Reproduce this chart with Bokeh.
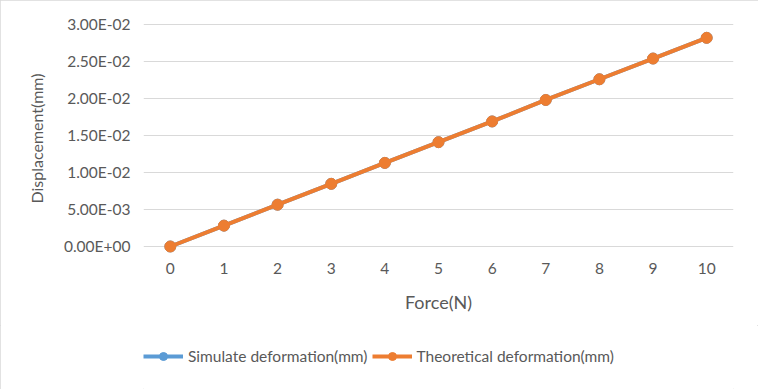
from bokeh.plotting import figure
from bokeh.layouts import column
from bokeh.models import (FactorRange, Range1d, FixedTicker, CustomJSTickFormatter,
                          Legend, LegendItem)
from bokeh.embed import file_html
from bokeh.resources import INLINE

force = ["0", "1", "2", "3", "4", "5", "6", "7", "8", "9", "10"]
simulate = [0.0, 0.00282, 0.00565, 0.00847, 0.0113, 0.0141, 0.0169, 0.0198, 0.0226, 0.0254, 0.0282]
theoretical = [0.0, 0.00282, 0.00565, 0.00847, 0.0113, 0.0141, 0.0169, 0.0198, 0.0226, 0.0254, 0.0282]
y_ticks = [0.0, 0.005, 0.01, 0.015, 0.02, 0.025, 0.03]
series_names = ["Simulate deformation(mm)", "Theoretical deformation(mm)"]

BLUE = "#5B9BD5"
ORANGE = "#ED7D31"
TEXT = "#595959"
GRID = "#D9D9D9"
FONT = "Lato"

p = figure(x_range=FactorRange(factors=force),
           y_range=Range1d(-0.000946, 0.030135),
           frame_width=590, frame_height=230,
           min_border_left=143, min_border_right=25,
           min_border_top=23, min_border_bottom=72,
           output_backend="svg", toolbar_location=None)
p.outline_line_color = None
p.background_fill_color = "white"
p.border_fill_color = "white"

p.line(x=force, y=simulate, line_color=BLUE, line_width=4)
p.scatter(x=force, y=simulate, size=11, fill_color=BLUE, line_color=BLUE)
p.line(x=force, y=theoretical, line_color=ORANGE, line_width=4)
p.scatter(x=force, y=theoretical, size=11, fill_color=ORANGE, line_color=ORANGE)

p.xgrid.grid_line_color = None
p.ygrid.grid_line_color = GRID
p.ygrid.grid_line_width = 1

p.yaxis.ticker = FixedTicker(ticks=y_ticks)
p.yaxis.formatter = CustomJSTickFormatter(code="""
    const s = tick.toExponential(2);
    const parts = s.split('e');
    let e = parts[1];
    const sign = e[0];
    let d = e.slice(1);
    if (d.length < 2) { d = '0' + d; }
    return parts[0] + 'E' + sign + d;
""")
for ax in (p.xaxis[0], p.yaxis[0]):
    ax.axis_line_color = None
    ax.major_tick_line_color = None
    ax.minor_tick_line_color = None
    ax.major_tick_out = 0
    ax.major_tick_in = 0
    ax.major_label_text_font = FONT
    ax.major_label_text_font_size = "15.5px"
    ax.major_label_text_color = TEXT
    ax.axis_label_text_font = FONT
    ax.axis_label_text_font_style = "normal"
    ax.axis_label_text_color = TEXT

p.yaxis.axis_label = "Displacement(mm)"
p.yaxis.axis_label_text_font_size = "16px"
p.yaxis.major_label_standoff = 13
p.yaxis.axis_label_standoff = 15
p.xaxis.axis_label = "Force(N)"
p.xaxis.axis_label_text_font_size = "18px"
p.xaxis.major_label_standoff = 9
p.xaxis.axis_label_standoff = 14

# legend strip below the chart (its own series renderers lie outside its view)
lg = figure(width=758, height=64, x_range=FactorRange(factors=force), y_range=Range1d(1, 2),
            min_border_left=0, min_border_right=0, min_border_top=0, min_border_bottom=0,
            output_backend="svg", toolbar_location=None)
lg.axis.visible = False
lg.grid.grid_line_color = None
lg.outline_line_color = None
lg.background_fill_color = "white"
lg.border_fill_color = "white"
dl1 = lg.line(x=force, y=simulate, line_color=BLUE, line_width=4)
ds1 = lg.scatter(x=force, y=simulate, size=11, fill_color=BLUE, line_color=BLUE)
dl2 = lg.line(x=force, y=theoretical, line_color=ORANGE, line_width=4)
ds2 = lg.scatter(x=force, y=theoretical, size=11, fill_color=ORANGE, line_color=ORANGE)

legend = Legend(items=[LegendItem(label=series_names[0], renderers=[dl1, ds1]),
                       LegendItem(label=series_names[1], renderers=[dl2, ds2])],
                orientation="horizontal", location=(0, 22),
                padding=0, margin=0, spacing=4,
                glyph_width=40, glyph_height=20, label_height=22,
                label_standoff=5,
                label_text_font=FONT, label_text_font_size="15.5px",
                label_text_color=TEXT,
                background_fill_alpha=0, border_line_color=None)
lg.add_layout(legend, "center")

layout = column(p, lg, spacing=0)
layout.styles = {"outline": "1px solid #D9D9D9", "outline-offset": "-1px"}

open("out.html", "w").write(file_html(layout, INLINE))
